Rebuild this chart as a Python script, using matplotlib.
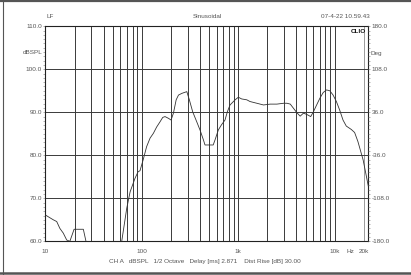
import numpy as np
import matplotlib
matplotlib.use("Agg")
import matplotlib.pyplot as plt
from matplotlib.ticker import FixedLocator, MultipleLocator, NullFormatter
from matplotlib.lines import Line2D

# response curve (Hz, dBSPL); None = gap below 60 dB
freq_lo = [10, 10.7, 12.05, 13.07, 14.1, 15.3, 16.6, 17.9]
spl_lo = [66.1, 65.7, 65.0, 64.6, 63.0, 61.9, 60.3, 60.0]
freq_bump = [17.9, 19.8, 24.7, 26.3]
spl_bump = [60.0, 62.8, 62.8, 60.0]
freq_main = [61.8, 69.7, 75.5, 84.7, 91.5, 95.6, 103, 112, 121.7, 131.6, 142.6,
             154.5, 164.6, 173.9, 188.6, 201, 212.6, 227, 239.9, 260, 292.8, 311,
             337, 371, 401, 435, 452, 550, 575, 622, 671, 729, 771, 822, 929,
             1003, 1086, 1227, 1325, 1559, 1830, 2147, 2520, 2955, 3204, 3470,
             3753, 4062, 4394, 4755, 5146, 5652, 6022, 6512, 7050, 7622, 8245,
             8922, 9652, 10440, 11300, 12225, 13220, 14920, 16140, 17460, 19790,
             22400]
spl_main = [60.0, 67.7, 71.5, 74.6, 76.2, 76.4, 78.9, 82.0, 84.0, 85.1, 86.6,
            87.8, 88.8, 89.0, 88.6, 88.2, 89.8, 92.9, 94.0, 94.4, 94.8, 92.9,
            90.1, 87.8, 85.9, 83.6, 82.4, 82.4, 83.6, 85.9, 87.1, 88.2, 90.1,
            91.7, 92.9, 93.5, 93.1, 92.9, 92.5, 92.1, 91.7, 91.9, 91.9, 92.1,
            92.1, 91.9, 90.9, 89.9, 89.1, 89.8, 89.5, 89.0, 90.1, 91.7, 93.3,
            94.6, 95.2, 95.0, 94.0, 92.5, 90.5, 88.2, 86.8, 86.0, 85.3, 83.2,
            78.9, 72.8]

db_ticks = [60, 70, 80, 90, 100, 110]
deg_ticks = [-180, -108, -36, 36, 108, 180]
x_labels = {10: "10", 100: "100", 1000: "1k", 10000: "10k", 20000: "20k"}
grid_freqs = [f * m for m in (10, 100, 1000) for f in range(1, 10)] + [10000, 20000]

txt = "#555555"
fs = 4.6
plt.rcParams["font.family"] = ["Liberation Sans", "DejaVu Sans"]

fig = plt.figure(figsize=(4.11, 2.75), dpi=100)
ax = fig.add_axes([0.1107, 0.1225, 0.7855, 0.782])

for f in grid_freqs:
    col = "#9a9a9a" if f == 20000 else "#3a3a3a"
    ax.axvline(f, color=col, lw=0.7, zorder=1)
for d in db_ticks[1:-1]:
    ax.axhline(d, color="#3a3a3a", lw=0.7, zorder=1)

for xs, ys in [(freq_lo, spl_lo), (freq_bump, spl_bump), (freq_main, spl_main)]:
    ax.plot(xs, ys, color="#333333", lw=0.6, zorder=3)

ax.set_xscale("log")
ax.set_xlim(10, 22400)
ax.set_ylim(60, 110)
ax.xaxis.set_major_locator(FixedLocator([]))
ax.xaxis.set_minor_locator(FixedLocator([]))
ax.set_yticks(db_ticks)
ax.set_yticklabels(["%.1f" % v for v in db_ticks])
ax.yaxis.set_minor_locator(MultipleLocator(1))
ax.tick_params(axis="y", which="both", direction="out", length=1.5, width=0.4,
               colors="#777777", labelcolor=txt, labelsize=fs, pad=1)
for s in ax.spines.values():
    s.set_color("#222222")
    s.set_linewidth(0.8)

ax2 = ax.twinx()
ax2.set_ylim(-180, 180)
ax2.set_yticks(deg_ticks)
ax2.set_yticklabels(["%.1f" % v for v in deg_ticks])
ax2.yaxis.set_minor_locator(MultipleLocator(7.2))
ax2.tick_params(axis="y", which="both", direction="out", length=1.5, width=0.4,
                colors="#777777", labelcolor=txt, labelsize=fs, pad=1)
for s in ax2.spines.values():
    s.set_visible(False)

for f, lab in x_labels.items():
    ax.text(f, -0.035, lab, transform=ax.get_xaxis_transform(), ha="center",
            va="top", fontsize=fs, color=txt)
ax.text(14500, -0.035, "Hz", transform=ax.get_xaxis_transform(), ha="center",
        va="top", fontsize=fs, color=txt)

ax.text(-0.008, 0.88, "dBSPL", transform=ax.transAxes, ha="right", va="center",
        fontsize=fs, color=txt)
ax.text(1.008, 0.875, "Deg", transform=ax.transAxes, ha="left", va="center",
        fontsize=fs, color=txt)
ax.text(0.992, 0.985, "CLIO", transform=ax.transAxes, ha="right", va="top",
        fontsize=4.6, color="#111111", fontweight="bold")

fig.text(50 / 411, 1 - 16 / 275, "LF", ha="center", va="center", fontsize=fs, color=txt)
fig.text(207 / 411, 1 - 16 / 275, "Sinusoidal", ha="center", va="center",
         fontsize=fs, color=txt)
fig.text(370 / 411, 1 - 16 / 275, "07-4-22 10.59.43", ha="right", va="center",
         fontsize=fs, color=txt)
fig.text(205 / 411, 1 - 262 / 275,
         "CH A   dBSPL   1/2 Octave   Delay [ms] 2.871    Dist Rise [dB] 30.00",
         ha="center", va="center", fontsize=fs, color=txt)

# outer frame of the screenshot
fig.add_artist(Line2D([0, 1], [0.996, 0.996], transform=fig.transFigure,
                      color="#555555", lw=1.6))
fig.add_artist(Line2D([0, 1], [0.006, 0.006], transform=fig.transFigure,
                      color="#555555", lw=1.8))
fig.add_artist(Line2D([2.5 / 411, 2.5 / 411], [0, 1], transform=fig.transFigure,
                      color="#555555", lw=0.8))

fig.savefig("out.png", dpi=100)
